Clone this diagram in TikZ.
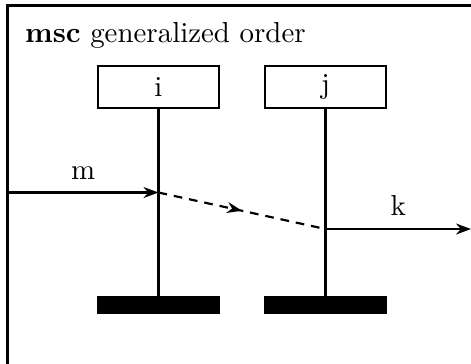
\documentclass[tikz,border=0pt]{standalone}
\usetikzlibrary{arrows.meta,decorations.markings}
\begin{document}
\begin{tikzpicture}[x=0.346pt,y=-0.346pt,
  line width=0.75pt,
  instbox/.style={draw,minimum width=41.9pt,minimum height=14.5pt,inner sep=0pt,outer sep=0pt},
  endbar/.style={draw,fill=black,minimum width=41.9pt,minimum height=5.5pt,inner sep=0pt,outer sep=0pt},
  msg/.style={-{Stealth[length=5.2pt,width=3.8pt,inset=1.7pt]}},
  order/.style={dash pattern=on 3pt off 2.4pt,
    postaction={decorate},
    decoration={markings,mark=at position 0.5 with {\arrow{Stealth[length=5.2pt,width=3.8pt,inset=1.7pt]}}}},
  lbl/.style={inner sep=0pt}]
\useasboundingbox (0,0) rectangle (471,363);
\clip (0,0) rectangle (471,363);
\draw (7.5,5.5) rectangle (490,380);
\node[lbl,anchor=base west] (title) at (24,42) {\textbf{msc} generalized order};
\node[instbox] (i) at (158.5,87) {i};
\node[instbox] (j) at (325.5,87) {j};
\node[endbar] (ib) at (158.5,305) {};
\node[endbar] (jb) at (325.5,305) {};
\draw (i.south) -- (ib.north);
\draw (j.south) -- (jb.north);
\coordinate (mstart) at (8,192.5);
\coordinate (mev) at (158.5,192.5);
\coordinate (kev) at (325.5,229);
\coordinate (kend) at (471,229);
\draw[msg] (mstart) -- node[lbl,above=4.2pt] (ml) {m} (mev);
\draw[order] (mev) -- (kev);
\draw[msg] (kev) -- node[lbl,above=4.2pt] (kl) {k} (kend);
\end{tikzpicture}
\end{document}
